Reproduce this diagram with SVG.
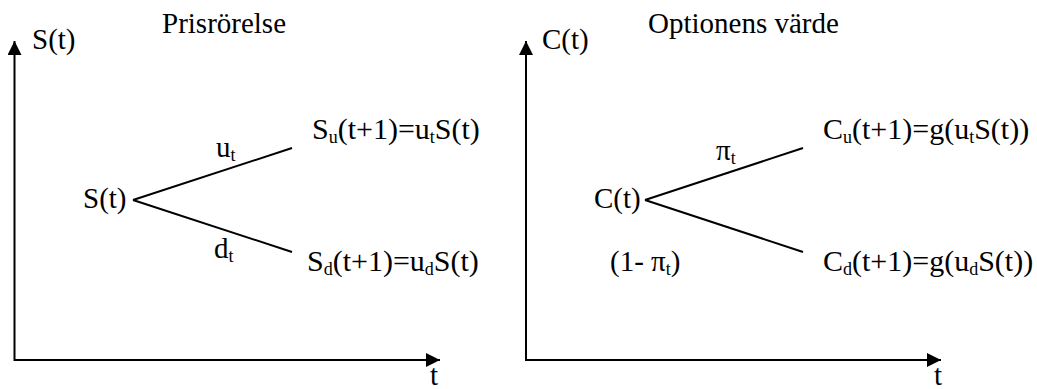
<svg xmlns="http://www.w3.org/2000/svg" width="1037" height="389" viewBox="0 0 1037 389">
<style>
text{font-family:"Liberation Serif","Times New Roman",serif;font-size:29px;fill:#000}
.f{font-size:30px}
.sub{font-size:18px}
.ax{fill:none;stroke:#000;stroke-width:2}
.br{stroke:#000;stroke-width:2;fill:none}
</style>
<defs>
<marker id="ah" viewBox="0 0 14 14" refX="14" refY="7" markerWidth="14" markerHeight="14" markerUnits="userSpaceOnUse" orient="auto-start-reverse">
<path d="M0,0 L14,7 L0,14 z" fill="#000"/>
</marker>
</defs>
<g id="axes">
<path class="ax" d="M14.5,41 L14.5,360 L440,360" marker-start="url(#ah)" marker-end="url(#ah)"/>
<path class="ax" d="M526,41 L526,360 L941,360" marker-start="url(#ah)" marker-end="url(#ah)"/>
<text x="32" y="49">S(t)</text>
<text x="430" y="385">t</text>
<text x="542" y="49">C(t)</text>
<text x="934" y="385">t</text>
</g>
<g id="titles">
<text x="162" y="33">Prisrörelse</text>
<text x="648" y="33">Optionens värde</text>
</g>
<g id="connectors">
<line class="br" x1="133" y1="200" x2="292" y2="148"/>
<line class="br" x1="133" y1="200" x2="292" y2="252"/>
<line class="br" x1="645" y1="200" x2="803" y2="148"/>
<line class="br" x1="645" y1="200" x2="803" y2="252"/>
<text x="216" y="157">u<tspan class="sub" dy="4">t</tspan></text>
<text x="214" y="258">d<tspan class="sub" dy="4">t</tspan></text>
<text x="716" y="160">π<tspan class="sub" dy="4">t</tspan></text>
<text x="610" y="271">(1- π<tspan class="sub" dy="4">t</tspan><tspan dy="-4">)</tspan></text>
</g>
<g id="node-s0"><text x="83" y="208">S(t)</text></g>
<g id="node-su"><text class="f" x="312" y="139">S<tspan class="sub" dy="4">u</tspan><tspan dy="-4">(t+1)=u</tspan><tspan class="sub" dy="4">t</tspan><tspan dy="-4">S(t)</tspan></text></g>
<g id="node-sd"><text class="f" x="307" y="271">S<tspan class="sub" dy="4">d</tspan><tspan dy="-4">(t+1)=u</tspan><tspan class="sub" dy="4">d</tspan><tspan dy="-4">S(t)</tspan></text></g>
<g id="node-c0"><text x="594" y="208">C(t)</text></g>
<g id="node-cu"><text class="f" x="823" y="139">C<tspan class="sub" dy="4">u</tspan><tspan dy="-4">(t+1)=g(u</tspan><tspan class="sub" dy="4">t</tspan><tspan dy="-4">S(t))</tspan></text></g>
<g id="node-cd"><text class="f" x="823" y="271">C<tspan class="sub" dy="4">d</tspan><tspan dy="-4">(t+1)=g(u</tspan><tspan class="sub" dy="4">d</tspan><tspan dy="-4">S(t))</tspan></text></g>
</svg>
